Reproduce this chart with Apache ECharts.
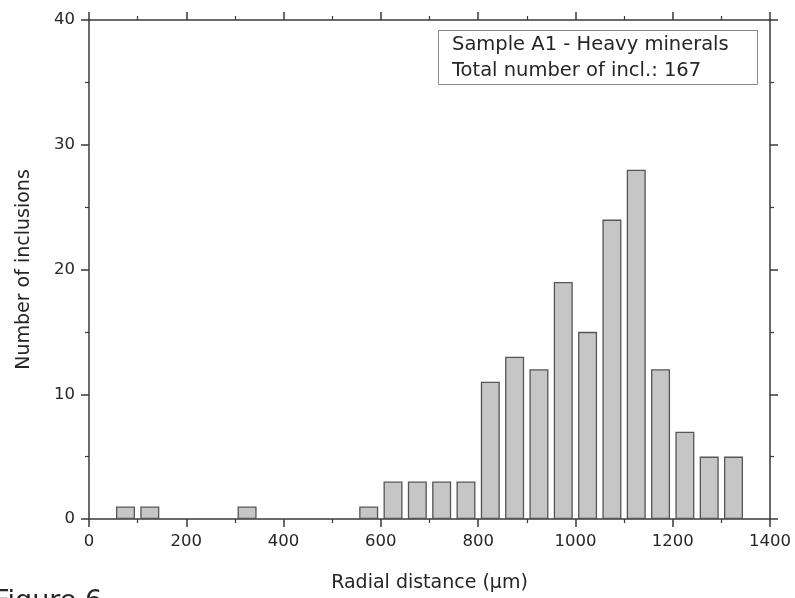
<!DOCTYPE html>
<html>
<head>
<meta charset="utf-8">
<script src="https://cdn.jsdelivr.net/npm/echarts@6/dist/echarts.min.js"></script>
<style>
html,body{margin:0;padding:0;background:#fff;}
#c{width:795px;height:598px;}
</style>
</head>
<body>
<div id="c"></div>
<script>
var binCenters = [75, 125, 325, 575, 625, 675, 725, 775, 825, 875, 925, 975, 1025, 1075, 1125, 1175, 1225, 1275, 1325];
var counts     = [1, 1, 1, 1, 3, 3, 3, 3, 11, 13, 12, 19, 15, 24, 28, 12, 7, 5, 5];
var legendLines = ['Sample A1 - Heavy minerals', 'Total number of incl.: 167'];
var xTitle = 'Radial distance (\u03bcm)';
var yTitle = 'Number of inclusions';
var figLabel = 'Figure 6';

var FONT = 'DejaVu Sans';
var TXT = '#262626';
var AX = '#3a3a3a';

var chart = echarts.init(document.getElementById('c'), null, {renderer: 'canvas'});
var data = binCenters.map(function (c, i) { return [c, counts[i]]; });

function xAx(pos, labels) {
  return {
    type: 'value', position: pos, min: 0, max: 1400, interval: 200,
    name: labels ? xTitle : '', nameLocation: 'middle', nameGap: 55,
    nameTextStyle: {fontFamily: FONT, fontSize: 19, color: TXT},
    axisLine: {show: true, onZero: false, lineStyle: {color: AX, width: 1.5}},
    axisTick: {show: true, inside: false, length: 8, lineStyle: {color: AX, width: 1.5}},
    minorTick: {show: true, splitNumber: 2, length: 4, lineStyle: {color: AX, width: 1.2}},
    axisLabel: {show: labels, margin: 14, fontFamily: FONT, fontSize: 16.5, color: TXT,
                formatter: function (v) { return String(v); }},
    splitLine: {show: false}
  };
}
function yAx(pos, labels) {
  return {
    type: 'value', position: pos, min: 0, max: 40, interval: 10,
    name: labels ? yTitle : '', nameLocation: 'middle', nameGap: 55,
    nameTextStyle: {fontFamily: FONT, fontSize: 19, color: TXT},
    axisLine: {show: true, onZero: false, lineStyle: {color: AX, width: 1.5}},
    axisTick: {show: true, inside: false, length: 8, lineStyle: {color: AX, width: 1.5}},
    minorTick: {show: true, splitNumber: 2, length: 4, lineStyle: {color: AX, width: 1.2}},
    axisLabel: {show: labels, margin: 14, fontFamily: FONT, fontSize: 16.5, color: TXT,
                formatter: function (v) { return String(v); }},
    splitLine: {show: false}
  };
}

chart.setOption({
  animation: false,
  backgroundColor: '#fff',
  grid: {left: 89, right: 25, top: 20, bottom: 79},
  xAxis: [xAx('bottom', true), xAx('top', false)],
  yAxis: [yAx('left', true), yAx('right', false)],
  series: [{
    type: 'bar',
    xAxisIndex: 0, yAxisIndex: 0,
    data: data,
    barWidth: 19,
    itemStyle: {color: '#c6c6c6', borderColor: '#555', borderWidth: 1.3}
  }],
  graphic: [
    {type: 'rect', left: 438, top: 30, shape: {width: 319, height: 54},
     style: {fill: '#fff', stroke: '#8a8a8a', lineWidth: 1}, z: 10},
    {type: 'text', left: 452, top: 35, z: 11,
     style: {text: legendLines[0], font: '19.5px "' + FONT + '"', fill: TXT}},
    {type: 'text', left: 452, top: 61, z: 11,
     style: {text: legendLines[1], font: '19.5px "' + FONT + '"', fill: TXT}},
    {type: 'text', left: -6, top: 588, z: 11,
     style: {text: figLabel, font: '27px "' + FONT + '"', fill: TXT}}
  ]
});
</script>
</body>
</html>
